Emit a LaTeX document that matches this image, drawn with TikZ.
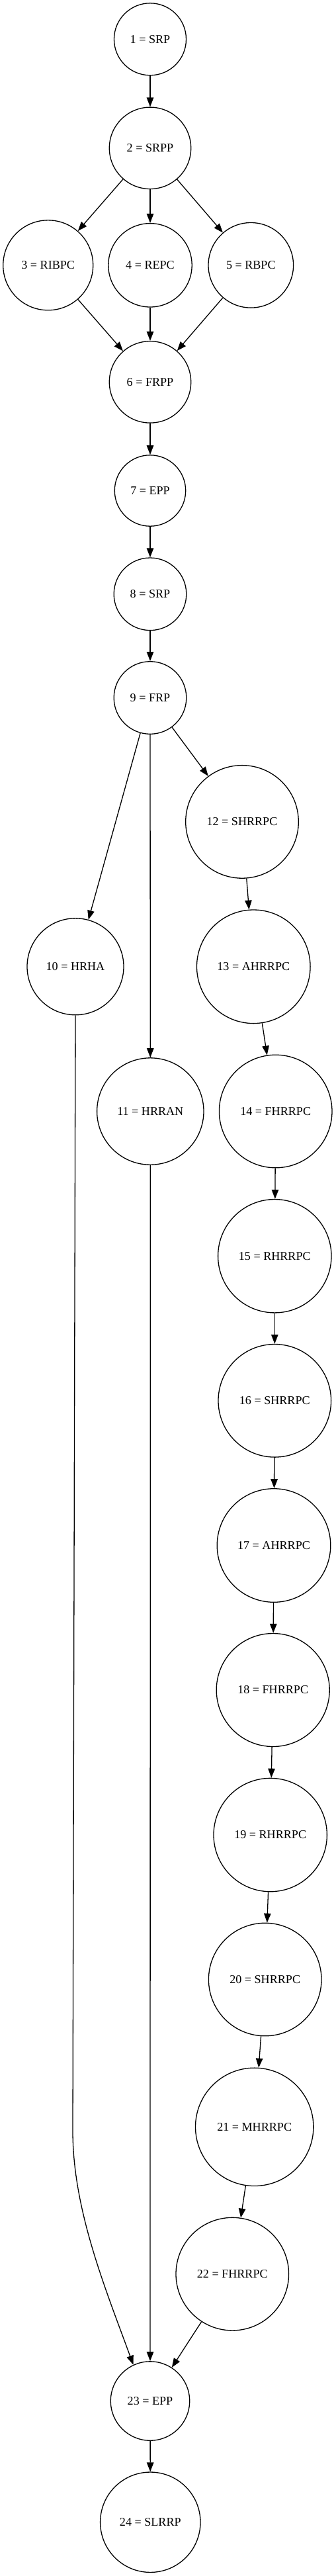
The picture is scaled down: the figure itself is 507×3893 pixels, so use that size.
\documentclass[tikz,border=0pt]{standalone}
\usepackage{fontspec}
\setmainfont{Liberation Serif}
\usetikzlibrary{arrows.meta}
\tikzset{
  nd/.style={draw=black, circle, line width=1.3pt, inner sep=0pt, font=\fontsize{18.1}{21}\selectfont},
  ed/.style={draw=black, line width=1.3pt, -{Triangle[length=14pt,width=10.5pt]}}
}
\begin{document}
\begin{tikzpicture}[x=1pt,y=-1pt]
\useasboundingbox (0,0) rectangle (507,3893);
\node[nd, minimum size=109pt]   (n1)  at (227,59.3)    {1 = SRP};
\node[nd, minimum size=123.4pt] (n2)  at (227,223.8)   {2 = SRPP};
\node[nd, minimum size=136pt]   (n3)  at (72.7,400.8)  {3 = RIBPC};
\node[nd, minimum size=126.4pt] (n4)  at (227,400.8)   {4 = REPC};
\node[nd, minimum size=128.6pt] (n5)  at (379.3,400.8) {5 = RBPC};
\node[nd, minimum size=123.4pt] (n6)  at (227,577.4)   {6 = FRPP};
\node[nd, minimum size=107.4pt] (n7)  at (227,741.5)   {7 = EPP};
\node[nd, minimum size=109.6pt] (n8)  at (227,897.8)   {8 = SRP};
\node[nd, minimum size=109.6pt] (n9)  at (227,1054.5)  {9 = FRP};
\node[nd, minimum size=146pt]   (n10) at (114,1460.8)  {10 = HRHA};
\node[nd, minimum size=161.4pt] (n11) at (227.3,1679.5){11 = HRRAN};
\node[nd, minimum size=170.6pt] (n12) at (366,1241.9)  {12 = SHRRPC};
\node[nd, minimum size=171.6pt] (n13) at (383.3,1460.8){13 = AHRRPC};
\node[nd, minimum size=170.6pt] (n14) at (416.7,1679.5){14 = FHRRPC};
\node[nd, minimum size=171.4pt] (n15) at (415.3,1898.2){15 = RHRRPC};
\node[nd, minimum size=170.6pt] (n16) at (415.3,2116.8){16 = SHRRPC};
\node[nd, minimum size=171.6pt] (n17) at (414,2335.5)  {17 = AHRRPC};
\node[nd, minimum size=171pt]   (n18) at (412.7,2554)  {18 = FHRRPC};
\node[nd, minimum size=171.4pt] (n19) at (408.7,2773)  {19 = RHRRPC};
\node[nd, minimum size=170.6pt] (n20) at (400.7,2991.5){20 = SHRRPC};
\node[nd, minimum size=178.4pt] (n21) at (384.7,3214.3){21 = MHRRPC};
\node[nd, minimum size=170.6pt] (n22) at (351.3,3436.6){22 = FHRRPC};
\node[nd, minimum size=119.4pt] (n23) at (227,3628.5)  {23 = EPP};
\node[nd, minimum size=151.4pt] (n24) at (227.3,3811.7){24 = SLRRP};
\coordinate (c10) at (110,3220);
\draw[ed] (n1) -- (n2);
\draw[ed] (n2) -- (n3);
\draw[ed] (n2) -- (n4);
\draw[ed] (n2) -- (n5);
\draw[ed] (n3) -- (n6);
\draw[ed] (n4) -- (n6);
\draw[ed] (n5) -- (n6);
\draw[ed] (n6) -- (n7);
\draw[ed] (n7) -- (n8);
\draw[ed] (n8) -- (n9);
\draw[ed] (n9) -- (n10);
\draw[ed] (n9) -- (n11);
\draw[ed] (n9) -- (n12);
\draw[ed] (n12) -- (n13);
\draw[ed] (n13) -- (n14);
\draw[ed] (n14) -- (n15);
\draw[ed] (n15) -- (n16);
\draw[ed] (n16) -- (n17);
\draw[ed] (n17) -- (n18);
\draw[ed] (n18) -- (n19);
\draw[ed] (n19) -- (n20);
\draw[ed] (n20) -- (n21);
\draw[ed] (n21) -- (n22);
\draw[ed] (n22) -- (n23);
\draw[ed] (n11) -- (n23);
\draw[ed] (n10.south) -- (c10) .. controls (110,3340) and (160,3460) .. (n23.115);
\draw[ed] (n23) -- (n24);
\end{tikzpicture}
\end{document}
